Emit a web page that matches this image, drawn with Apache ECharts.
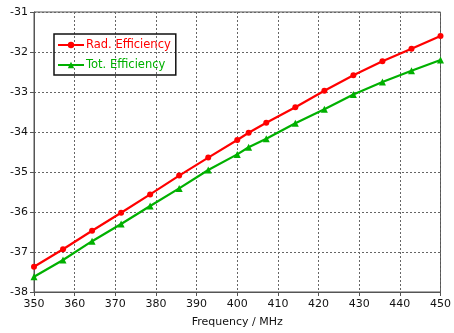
<!DOCTYPE html>
<html>
<head>
<meta charset="utf-8">
<script src="https://cdn.jsdelivr.net/npm/echarts@6/dist/echarts.min.js"></script>
<style>
  html, body { margin: 0; padding: 0; background: #fff; }
  #chart { width: 454px; height: 333px; }
</style>
</head>
<body>
<div id="chart"></div>
<script>
// frequency samples (MHz)
var freq = [350, 357.14, 364.29, 371.43, 378.57, 385.71, 392.86, 400, 402.8,
            407.14, 414.29, 421.43, 428.57, 435.71, 442.86, 450];
// efficiencies (dB)
var radEff = [-37.37, -36.93, -36.47, -36.02, -35.56, -35.09, -34.64, -34.2, -34.02,
              -33.77, -33.38, -32.97, -32.58, -32.23, -31.92, -31.6];
var totEff = [-37.62, -37.2, -36.73, -36.3, -35.85, -35.41, -34.95, -34.56, -34.38,
              -34.17, -33.78, -33.43, -33.06, -32.75, -32.47, -32.2];
var seriesNames = ['Rad. Efficiency', 'Tot. Efficiency'];

var pairs = function(xs, ys) {
    var out = [];
    for (var i = 0; i < xs.length; i++) out.push([xs[i], ys[i]]);
    return out;
};

var font = 'DejaVu Sans';
var myChart = echarts.init(document.getElementById('chart'));
var option = {
    animation: false,
    grid: { left: 34, right: 8, top: 12, bottom: 41, show: true, borderColor: '#555', borderWidth: 1 },
    legend: {
        left: 54, top: 34, orient: 'vertical',
        itemWidth: 26, itemHeight: 8, itemGap: 8,
        padding: [5, 5, 4, 3],
        borderColor: '#111', borderWidth: 1.5,
        textStyle: { fontFamily: font, fontSize: 11.5, padding: [0, 0, 0, -3] },
        data: [
            { name: seriesNames[0], textStyle: { color: '#ff0000' } },
            { name: seriesNames[1], textStyle: { color: '#00b000' } }
        ]
    },
    xAxis: {
        type: 'value', min: 350, max: 450, interval: 10,
        name: 'Frequency / MHz', nameLocation: 'middle', nameGap: 25,
        nameTextStyle: { fontFamily: font, fontSize: 11, color: '#111' },
        axisLine: { lineStyle: { color: '#555' } },
        axisTick: { length: 4, lineStyle: { color: '#555' } },
        axisLabel: { fontFamily: font, fontSize: 11, color: '#111', margin: 7 },
        splitLine: { lineStyle: { type: [2, 2], color: '#666' } }
    },
    yAxis: {
        type: 'value', min: -38, max: -31, interval: 1,
        axisLine: { show: true, lineStyle: { color: '#555' } },
        axisTick: { show: true, length: 4, lineStyle: { color: '#555' } },
        axisLabel: { fontFamily: font, fontSize: 11, color: '#111', margin: 6 },
        splitLine: { lineStyle: { type: [2, 2], color: '#666' } }
    },
    series: [
        {
            name: seriesNames[0], type: 'line', data: pairs(freq, radEff),
            symbol: 'circle', symbolSize: 6,
            lineStyle: { color: '#ff0000', width: 2.2 },
            itemStyle: { color: '#ff0000' },
            z: 3
        },
        {
            name: seriesNames[1], type: 'line', data: pairs(freq, totEff),
            symbol: 'triangle', symbolSize: 7,
            lineStyle: { color: '#00b000', width: 2.2 },
            itemStyle: { color: '#00b000' },
            z: 2
        }
    ]
};
myChart.setOption(option);
</script>
</body>
</html>
